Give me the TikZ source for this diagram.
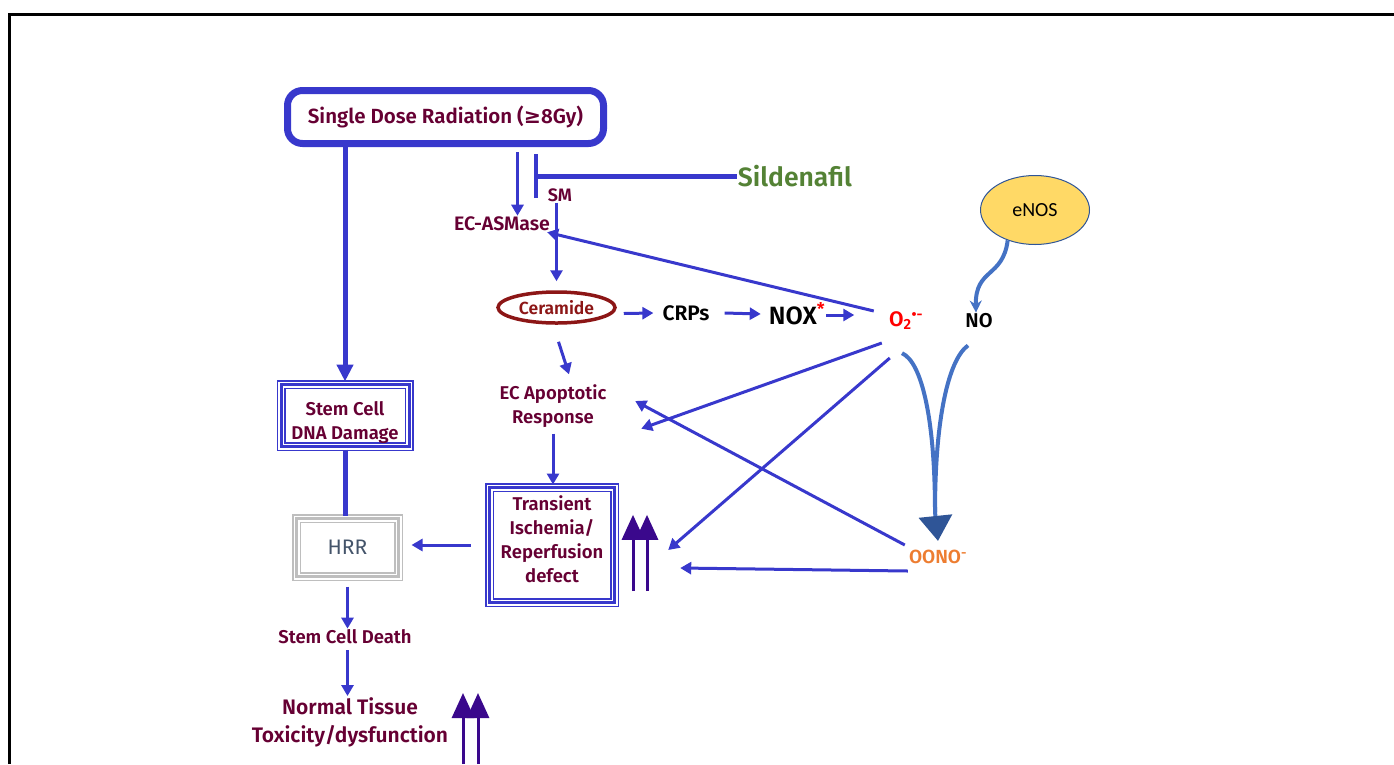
\documentclass[tikz,border=0pt]{standalone}
\usepackage{fontspec}
\setmainfont{Fira Sans}[BoldFont={Fira Sans SemiBold}]
\newfontfamily\symfont{DejaVu Sans}
\newfontfamily\calfont{Carlito}
\usetikzlibrary{arrows.meta}
\usetikzlibrary{shapes.geometric}

\definecolor{lineblue}{RGB}{56,56,204}
\definecolor{txtred}{RGB}{102,0,51}
\definecolor{cerred}{RGB}{140,22,22}
\definecolor{silgreen}{RGB}{84,130,53}
\definecolor{upviolet}{RGB}{58,8,140}
\definecolor{curveblue}{RGB}{68,114,196}
\definecolor{headblue}{RGB}{47,85,151}
\definecolor{enosfill}{RGB}{255,217,102}
\definecolor{oonoorange}{RGB}{237,125,49}
\definecolor{hrrtext}{RGB}{68,84,106}
\definecolor{hrrgray}{RGB}{190,190,190}

\begin{document}
\begin{tikzpicture}[x=1pt,y=-1pt,
  lbl/.style={text=txtred,align=center,inner sep=1pt,font=\bfseries\fontsize{18.5}{24}\selectfont},
  blk/.style={text=black,inner sep=1pt,font=\bfseries\fontsize{21}{24}\selectfont},
  tribox/.style={preaction={draw=#1,line width=9pt},draw=white,line width=6pt,postaction={draw=#1,line width=3pt}},
  flow/.style={draw=lineblue,line width=3pt,-{Triangle[length=11pt,width=12pt]}},
  bigflow/.style={draw=lineblue,line width=5pt,-{Triangle[length=17pt,width=16pt]}},
  link/.style={draw=lineblue,line width=5pt},
  inhib/.style={draw=lineblue,line width=5pt,-{Bar[width=44pt,line width=4pt]}},
  nocurve/.style={draw=curveblue,line width=4pt},
  uparr/.style={draw=upviolet,line width=3pt,-{Triangle[length=25pt,width=22pt]}}]
\useasboundingbox (0,0) rectangle (1394,764);
\draw[line width=3pt] (9,764) -- (9,14) -- (1394,14);

\node[lbl,draw=lineblue,line width=7pt,rounded corners=15pt,minimum width=316pt,minimum height=53pt,font=\bfseries\fontsize{20.5}{24}\selectfont] (rad) at (445.5,117) {Single Dose Radiation ({\symfont ≥}8Gy)};
\node[lbl,font=\bfseries\fontsize{18}{20}\selectfont] (sm) at (560,195) {SM};
\node[lbl,font=\bfseries\fontsize{19.5}{22}\selectfont] (asm) at (502,224) {EC-ASMase};
\node[text=silgreen,inner sep=1pt,font=\bfseries\fontsize{26.5}{30}\selectfont] (sil) at (795,176) {Sildenafil};
\node[ellipse,draw=cerred,line width=3.5pt,minimum width=117pt,minimum height=31pt,inner sep=0pt,text=cerred,font=\bfseries\fontsize{17.5}{20}\selectfont] (cer) at (556.5,307.5) {Ceramide};
\node[blk] (crp) at (686,313) {CRPs};
\node[blk,font=\bfseries\fontsize{25}{28}\selectfont] (nox) at (797,314) {NOX\textcolor{red}{\textsuperscript{*}}};
\node[text=red,inner sep=1pt,font=\bfseries\fontsize{21}{24}\selectfont] (o2) at (906,321) {O\textsubscript{2}\textsuperscript{\textbullet-}};
\node[blk,font=\bfseries\fontsize{20}{22}\selectfont] (no) at (979,321) {NO};
\node[ellipse,draw=headblue,line width=1pt,fill=enosfill,minimum width=109pt,minimum height=69pt,font=\calfont\fontsize{20}{22}\selectfont] (enos) at (1035,210) {eNOS};
\node[lbl,minimum width=176pt] (apo) at (553,406) {EC Apoptotic\\Response};
\node[tribox=lineblue,minimum width=125pt,minimum height=115pt,
  label={[lbl,yshift=6pt]center:Transient\\Ischemia/\\Reperfusion\\defect}] (isch) at (552,545) {};
\node[tribox=lineblue,minimum width=128pt,minimum height=62pt,
  label={[lbl,yshift=-7pt]center:Stem Cell\\DNA Damage}] (stem) at (345,415.5) {};
\node[tribox=hrrgray,text=hrrtext,minimum width=102pt,minimum height=58pt,font=\fontsize{21}{24}\selectfont] (hrr) at (347.5,547.5) {HRR};
\node[lbl] (death) at (345,637) {Stem Cell Death};
\node[lbl,font=\bfseries\fontsize{21}{28}\selectfont] (tox) at (350,722) {Normal Tissue\\Toxicity/dysfunction};
\node[text=oonoorange,inner sep=1pt,font=\bfseries\fontsize{19}{22}\selectfont] (oono) at (938,557) {OONO\textsuperscript{-}};
\node[inner sep=0pt,minimum width=56pt,minimum height=76pt] (isup) at (640,553) {};
\coordinate (jn) at (935,512);

\draw[bigflow] (stem.north |- rad.south) -- (stem.north);
\draw[flow,shorten <=5pt] ([xshift=72pt]rad.south) -- ([xshift=72pt]rad.south |- asm.north);
\draw[inhib] (sil.west) -- ++(-203,0);
\draw[flow,shorten >=9pt] (sm.south -| cer.north) -- (cer.north);
\draw[flow] ([shift={(-14,-10)}]o2.west) -- ([xshift=-4pt]asm.south east);
\draw[flow] ([shift={(7,6)}]cer.east) -- ([xshift=-8pt]crp.west);
\draw[flow] ([xshift=14pt]crp.east) -- ([xshift=-7pt]nox.west);
\draw[flow] ([yshift=-1pt]nox.east) -- ++(28,0);
\draw[flow] ([shift={(2,17)}]cer.south) -- ([shift={(16,-9)}]apo.north);
\draw[flow,shorten <=5pt] (apo.south) -- (apo.south |- isch.north);
\draw[flow] ([shift={(-6,22)}]o2.west) -- (apo.south east);
\draw[flow] ([shift={(2,37)}]o2.west) -- ([shift={(0,-3)}]isup.east);
\draw[flow] ([shift={(-3,-12)}]oono.west) -- ([shift={(-6,-5)}]apo.east);
\draw[flow] ([shift={(0,14)}]oono.west) -- ([shift={(12,15)}]isup.east);
\draw[flow,shorten <=16pt,shorten >=10pt] (isch.west) -- (isch.west -| hrr.east);
\draw[link] (stem.south) -- (stem.south |- hrr.north);
\draw[flow,shorten <=7pt] (hrr.south) -- (hrr.south |- death.north);
\draw[flow,shorten <=5pt] (death.south -| hrr.south) -- (hrr.south |- tox.north);
\foreach \dx in {-7,7}
  \draw[uparr] ([xshift=\dx pt]isup.south) -- ([xshift=\dx pt]isup.north);
\foreach \x in {463,478}
  \draw[uparr] (\x,764) -- (\x,693);
\draw[nocurve,-{Stealth[length=12pt,width=12pt]}] (enos.228) .. controls (1003,278) and (975,268) .. ([xshift=-3pt]no.north);
\draw[nocurve] ([shift={(-4,22)}]o2.south) .. controls (922,362) and (935,420) .. (jn);
\draw[nocurve] ([shift={(-11,16)}]no.south) .. controls (948,360) and (935,420) .. (jn);
\draw[nocurve,-{Triangle[length=25pt,width=33pt,fill=headblue,color=headblue]}] (jn) -- ([yshift=8pt]oono.north);
\end{tikzpicture}
\end{document}
